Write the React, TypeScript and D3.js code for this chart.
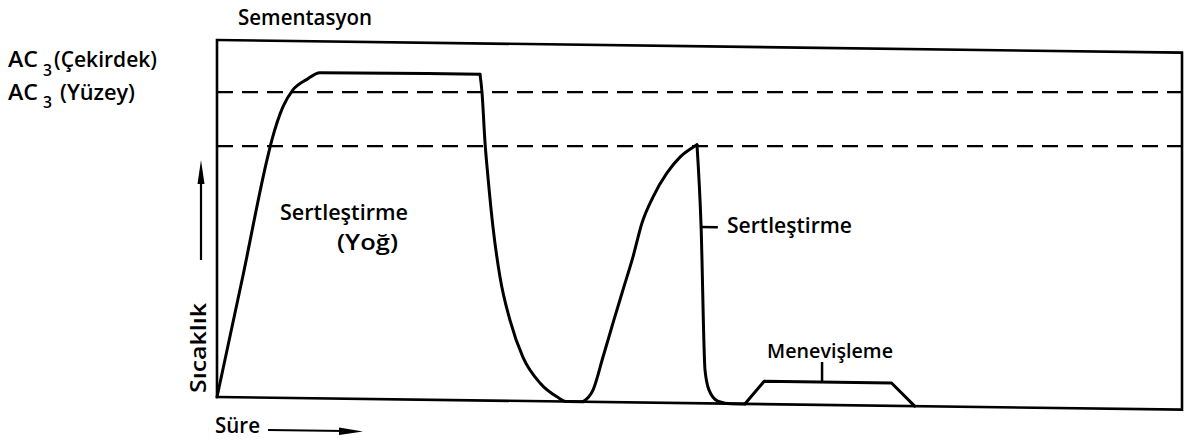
import React from "react";
import * as d3 from "d3";

// Process stages: [time (arb. units), temperature (arb. units)]
const heating: [number, number][] = [
  [0, 0], [2.7, 34.2], [5.18, 66.6], [5.69, 72.2], [6.83, 81.5], [7.87, 86.3], [9.32, 89.3],
  [10.66, 91.2], [27.25, 91.4],
];
const oilQuench: [number, number][] = [
  [27.25, 91.4], [27.46, 86.4], [27.77, 72.4], [28.08, 62.6], [28.6, 48.6], [29.33, 34.6],
  [30.36, 22.6], [31.7, 12.3], [33.47, 5.1], [35.23, 1.3], [36.27, 0], [37.93, 0],
];
const reheat: [number, number][] = [
  [37.93, 0], [38.96, 3.3], [40.0, 12.6], [41.04, 22.2], [42.07, 31.5], [43.1, 40.7], [44.04, 50.3],
  [45.18, 57.6], [46.63, 64.4], [47.98, 68.9], [49.22, 71.5], [49.74, 72.4],
];
const waterQuench: [number, number][] = [
  [49.74, 72.4], [50.16, 49.9], [50.57, 9.4], [50.98, 3.8], [51.9, 0.7], [53.37, 0], [54.7, 0],
];
const tempering: [number, number][] = [
  [54.7, 0], [56.7, 6.4], [69.9, 6.4], [72.3, 0],
];
// Critical temperature levels (dashed): AC3 core, AC3 surface
const acLevels = [85.4, 70.3];

const W = 1186, H = 442;
const x = d3.scaleLinear().domain([0, 100]).range([217, 1182]);
const y = d3.scaleLinear().domain([0, 100]).range([397, 40]);

const smooth = d3.line<[number, number]>().x(d => x(d[0])).y(d => y(d[1])).curve(d3.curveMonotoneX);
const straight = d3.line<[number, number]>().x(d => x(d[0])).y(d => y(d[1]));

const font = "'Open Sans', 'DejaVu Sans', sans-serif";
const ink = "#000";

function Label(p: { x: number; y: number; len: number; size: number; children: string; transform?: string }) {
  return (
    <text x={p.x} y={p.y} fontSize={p.size} fontWeight={600} fill={ink} textLength={p.len}
      lengthAdjust="spacingAndGlyphs" transform={p.transform}>{p.children}</text>
  );
}

export default function App() {
  const skew = `translate(217 397) skewY(0.75) translate(-217 -397)`;
  return (
    <svg width={W} height={H} viewBox={`0 0 ${W} ${H}`} style={{ position: "absolute", left: 0, top: 0, background: "#fff" }} fontFamily={font}>
      <rect x={0} y={0} width={W} height={H} fill="#fff" />
      {/* title */}
      <Label x={238} y={25} len={134} size={21}>Sementasyon</Label>
      {/* AC3 labels */}
      <Label x={8} y={67} len={30} size={21}>AC</Label>
      <Label x={43} y={76} len={9} size={17}>3</Label>
      <Label x={54} y={67} len={103} size={21}>(Çekirdek)</Label>
      <Label x={8} y={100} len={30} size={21}>AC</Label>
      <Label x={43} y={108} len={9} size={17}>3</Label>
      <Label x={60} y={100} len={75} size={21}>(Yüzey)</Label>

      {/* dashed AC3 lines */}
      {acLevels.map((v, i) => (
        <line key={i} x1={x(0)} x2={x(100)} y1={y(v)} y2={y(v)} stroke={ink} strokeWidth={2.2} strokeDasharray="16 9" />
      ))}

      <g transform={skew}>
        {/* frame */}
        <rect x={x(0)} y={y(100)} width={x(100) - x(0)} height={y(0) - y(100)} fill="none" stroke={ink} strokeWidth={2.6} />
        {/* process curves */}
        <g fill="none" stroke={ink} strokeWidth={3} strokeLinecap="round" strokeLinejoin="round">
          <path d={smooth(heating) ?? ""} />
          <path d={smooth(oilQuench) ?? ""} />
          <path d={smooth(reheat) ?? ""} />
          <path d={smooth(waterQuench) ?? ""} />
          <path d={straight(tempering) ?? ""} />
        </g>
        {/* annotation leaders */}
        <line x1={x(50.1)} x2={x(51.9)} y1={y(49.4)} y2={y(49.4)} stroke={ink} strokeWidth={2.5} />
        <line x1={x(62.7)} x2={x(62.7)} y1={y(6.4)} y2={y(12)} stroke={ink} strokeWidth={2.5} />
      </g>

      {/* annotations */}
      <Label x={280} y={220} len={128} size={21}>Sertleştirme</Label>
      <Label x={337} y={250} len={61} size={21}>(Yoğ)</Label>
      <Label x={727} y={233} len={125} size={21}>Sertleştirme</Label>
      <Label x={767} y={358} len={126} size={19}>Menevişleme</Label>

      {/* y axis label and arrow */}
      <Label x={0} y={0} len={90} size={22} transform="translate(206 393) rotate(-90)">Sıcaklık</Label>
      <line x1={201} x2={201} y1={260} y2={180} stroke={ink} strokeWidth={2.2} />
      <path d="M201,160 L197.5,184 L204.5,184 Z" fill={ink} />
      {/* x axis label and arrow */}
      <Label x={215} y={433} len={45} size={22}>Süre</Label>
      <line x1={268} x2={345} y1={430} y2={431} stroke={ink} strokeWidth={2.2} />
      <path d="M363,431.5 L339,427.5 L339,435 Z" fill={ink} />
    </svg>
  );
}
